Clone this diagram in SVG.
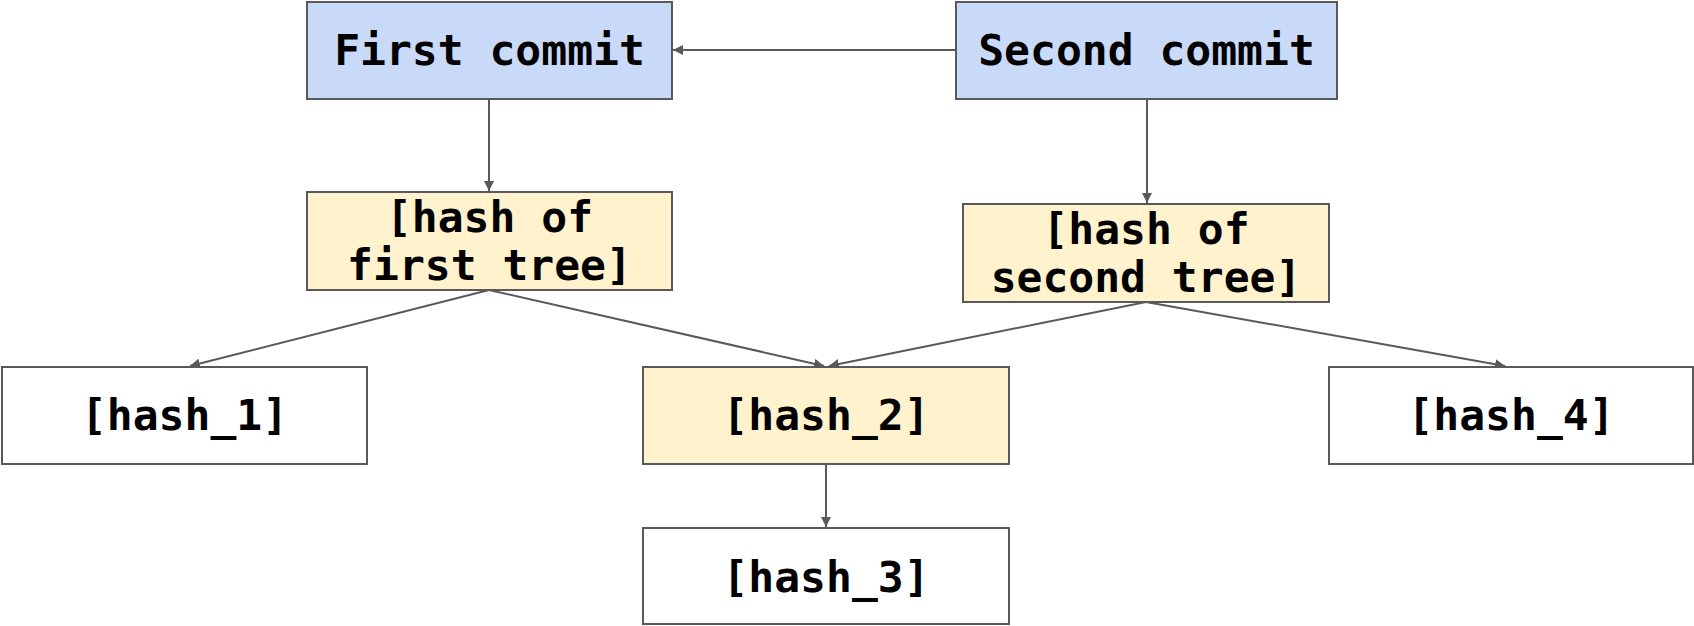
<svg xmlns="http://www.w3.org/2000/svg" width="1694" height="626" viewBox="0 0 1694 626">
<style>
.box{stroke:#595959;stroke-width:2}
.blue{fill:#c9daf8}
.yellow{fill:#fff2cc}
.white{fill:#ffffff}
.t{font-family:"DejaVu Sans Mono","Liberation Mono",monospace;font-weight:bold;font-size:43px;fill:#000;text-anchor:middle}
.c{stroke:#595959;stroke-width:2;fill:none;marker-end:url(#ah)}
</style>
<defs>
<marker id="ah" viewBox="0 0 10 10" refX="10" refY="5" markerWidth="5" markerHeight="5" orient="auto" markerUnits="strokeWidth">
<path d="M0,0 L10,5 L0,10 z" fill="#595959"/>
</marker>
</defs>
<rect width="1694" height="626" fill="#ffffff"/>
<g id="connectors">
<line class="c" x1="956" y1="50" x2="673" y2="50"/>
<line class="c" x1="489" y1="99" x2="489" y2="191"/>
<line class="c" x1="1147" y1="99" x2="1147" y2="203"/>
<line class="c" x1="489" y1="290" x2="190" y2="366"/>
<line class="c" x1="489" y1="290" x2="824" y2="366"/>
<line class="c" x1="1146" y1="302" x2="829" y2="366"/>
<line class="c" x1="1146" y1="302" x2="1505" y2="366"/>
<line class="c" x1="826" y1="465" x2="826" y2="527"/>
</g>
<g id="first-commit">
<rect class="box blue" x="307" y="2" width="365" height="97"/>
<text class="t" x="489.5" y="65">First commit</text>
</g>
<g id="second-commit">
<rect class="box blue" x="956" y="2" width="381" height="97"/>
<text class="t" x="1146.5" y="65">Second commit</text>
</g>
<g id="first-tree">
<rect class="box yellow" x="307" y="192" width="365" height="98"/>
<text class="t" x="489.5" y="232">[hash of</text>
<text class="t" x="489.5" y="280">first tree]</text>
</g>
<g id="second-tree">
<rect class="box yellow" x="963" y="204" width="366" height="98"/>
<text class="t" x="1146" y="244">[hash of</text>
<text class="t" x="1146" y="292">second tree]</text>
</g>
<g id="hash1">
<rect class="box white" x="2" y="367" width="365" height="97"/>
<text class="t" x="184.5" y="430">[hash_1]</text>
</g>
<g id="hash2">
<rect class="box yellow" x="643" y="367" width="366" height="97"/>
<text class="t" x="826" y="430">[hash_2]</text>
</g>
<g id="hash4">
<rect class="box white" x="1329" y="367" width="364" height="97"/>
<text class="t" x="1511" y="430">[hash_4]</text>
</g>
<g id="hash3">
<rect class="box white" x="643" y="528" width="366" height="96"/>
<text class="t" x="826" y="592">[hash_3]</text>
</g>
</svg>
